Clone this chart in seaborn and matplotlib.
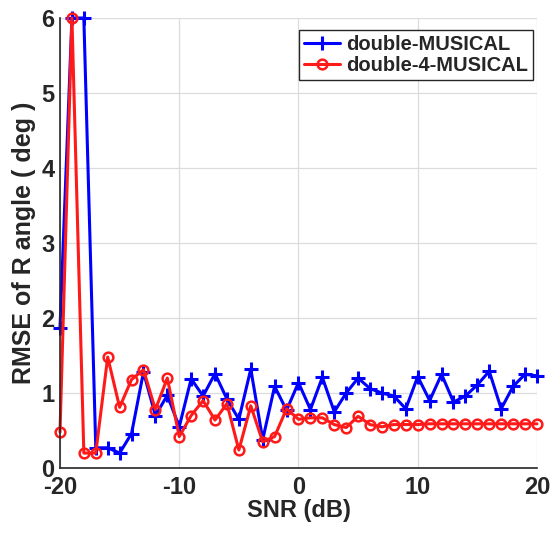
import numpy as np
import pandas as pd
import matplotlib
matplotlib.use("Agg")
import matplotlib.pyplot as plt
import seaborn as sns

snr = list(range(-20, 21))

musical = [1.87, 6.0, 6.0, 0.27, 0.27, 0.2, 0.46, 1.28, 0.7, 0.97, 0.55,
           1.19, 0.96, 1.26, 0.92, 0.65, 1.32, 0.38, 1.09, 0.77, 1.14,
           0.78, 1.21, 0.75, 1.0, 1.2, 1.06, 1.0, 0.96, 0.79, 1.22,
           0.9, 1.25, 0.88, 0.96, 1.11, 1.29, 0.79, 1.09, 1.25, 1.23]

musical4 = [0.48, 6.0, 0.2, 0.2, 1.48, 0.81, 1.18, 1.31, 0.78, 1.2, 0.42,
            0.7, 0.9, 0.64, 0.86, 0.24, 0.83, 0.35, 0.42, 0.79, 0.65,
            0.67, 0.67, 0.58, 0.54, 0.69, 0.58, 0.55, 0.58, 0.58, 0.58,
            0.59, 0.59, 0.59, 0.59, 0.59, 0.59, 0.59, 0.59, 0.59, 0.59]

labels = ["double-MUSICAL", "double-4-MUSICAL"]

sns.set_style("white")
plt.rcParams["font.family"] = ["Liberation Sans", "DejaVu Sans"]
plt.rcParams["font.weight"] = "bold"
plt.rcParams["axes.unicode_minus"] = False

fig = plt.figure(figsize=(5.53, 5.38), dpi=100)
ax = fig.add_axes([0.1085, 0.130, 0.8625, 0.8365])

df1 = pd.DataFrame({"snr": snr, "rmse": musical})
df2 = pd.DataFrame({"snr": snr, "rmse": musical4})

blue = "#0000ff"
red = "#ff1a1a"

sns.lineplot(data=df1, x="snr", y="rmse", ax=ax, color=blue, lw=2.2,
             marker="+", markersize=9.5, markeredgewidth=2.2,
             markeredgecolor=blue, label=labels[0], clip_on=False)
sns.lineplot(data=df2, x="snr", y="rmse", ax=ax, color=red, lw=2.2,
             marker="o", markersize=7, markeredgewidth=1.8,
             markeredgecolor=red, markerfacecolor="none",
             label=labels[1], clip_on=False)

ax.set_xlim(-20, 20)
ax.set_ylim(0, 6)
ax.set_xticks([-20, -10, 0, 10, 20])
ax.set_yticks(range(0, 7))
ax.grid(True, color="#dcdcdc", lw=0.9)
ax.set_axisbelow(True)

for side in ["top", "right"]:
    ax.spines[side].set_visible(False)
for side in ["left", "bottom"]:
    ax.spines[side].set_color("#262626")
    ax.spines[side].set_linewidth(1.2)

ax.tick_params(direction="in", length=5, width=1.2, color="#262626",
               labelsize=17, pad=4, labelcolor="#262626")
ax.tick_params(axis="x", pad=6)
for t in ax.get_xticklabels() + ax.get_yticklabels():
    t.set_fontweight("bold")

ax.set_xlabel("SNR (dB)", fontsize=17, fontweight="bold", color="#262626",
              labelpad=0)
ax.set_ylabel("RMSE of R angle ( deg )", fontsize=18, fontweight="bold",
              color="#262626", labelpad=4)

leg = ax.legend(loc="upper right", bbox_to_anchor=(1.0, 0.983),
                prop={"size": 14.5, "weight": "bold"}, handlelength=1.8,
                handletextpad=0.3, borderpad=0.25, labelspacing=0.1,
                borderaxespad=0.2, fancybox=False, framealpha=1)
leg.get_frame().set_edgecolor("#262626")
leg.get_frame().set_linewidth(1.0)

fig.savefig("out.png", dpi=100)
